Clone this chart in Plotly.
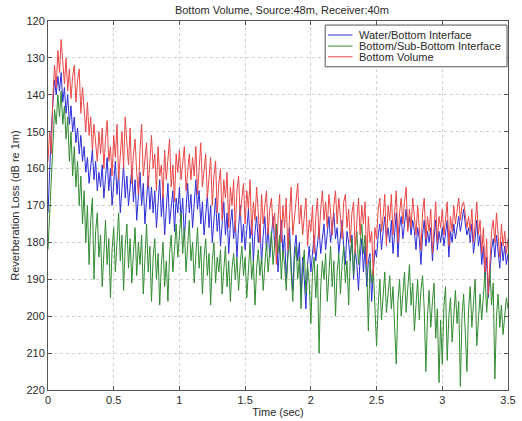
import numpy as np
import plotly.graph_objects as go

# time grid (sec)
t_start, t_end, n_pts = 0.0, 3.5, 281
time = np.linspace(t_start, t_end, n_pts)

water_bottom = [
    172, 160, 150, 142, 136, 140, 135, 139,
    134, 142, 138, 145, 140, 148, 143, 150,
    146, 153, 149, 156, 151, 158, 154, 161,
    157, 164, 159, 155, 163, 158, 166, 161,
    165, 159, 168, 162, 157, 166, 160, 170,
    163, 158, 167, 161, 172, 164, 159, 168,
    162, 170, 165, 160, 169, 163, 174, 166,
    161, 170, 164, 175, 167, 162, 171, 165,
    172, 166, 176, 168, 163, 173, 167, 178,
    169, 164, 175, 170, 166, 177, 168, 172,
    165, 174, 168, 179, 170, 164, 172, 167,
    176, 168, 163, 171, 166, 175, 169, 178,
    171, 167, 176, 170, 180, 173, 168, 177,
    172, 181, 174, 169, 178, 172, 183, 175,
    171, 179, 174, 184, 176, 170, 180, 175,
    182, 176, 171, 179, 174, 185, 177, 173,
    180, 175, 186, 178, 173, 182, 176, 184,
    177, 173, 181, 175, 188, 179, 174, 183,
    178, 190, 181, 176, 186, 193, 182, 178,
    185, 180, 195, 184, 190, 198, 186, 181,
    188, 182, 178, 185, 180, 176, 183, 179,
    175, 182, 177, 173, 180, 176, 172, 179,
    176, 183, 178, 174, 181, 186, 177, 180,
    185, 178, 190, 182, 186, 193, 184, 179,
    188, 181, 192, 185, 183, 196, 188, 182,
    184, 178, 175, 182, 177, 173, 179, 176,
    180, 174, 183, 177, 172, 184, 176, 173,
    179, 175, 171, 176, 173, 178, 174, 177,
    182, 176, 179, 186, 178, 174, 181, 177,
    180, 176, 185, 179, 174, 182, 177, 180,
    176, 181, 178, 174, 184, 177, 180, 175,
    179, 176, 173, 177, 174, 171, 175, 178,
    176, 180, 175, 183, 179, 174, 181, 178,
    186, 181, 190, 184, 195, 187, 182, 179,
    184, 178, 182, 187, 180, 185, 181, 186,
    183,
]

bottom_sub = [
    182, 172, 160, 150, 144, 148, 140, 146,
    139, 148, 143, 152, 146, 158, 150, 162,
    154, 165, 158, 170, 162, 175, 166, 180,
    170, 186, 174, 168, 190, 177, 172, 184,
    178, 192, 181, 174, 186, 179, 195, 182,
    176, 188, 180, 172, 185, 178, 193, 181,
    175, 187, 179, 191, 183, 176, 189, 180,
    186, 178, 194, 182, 175, 188, 181, 196,
    184, 179, 190, 183, 197, 186, 180, 192,
    185, 196, 183, 178, 188, 182, 175, 184,
    178, 172, 183, 176, 188, 179, 174, 185,
    180, 191, 182, 176, 187, 181, 194, 184,
    179, 189, 183, 197, 185, 180, 191, 184,
    188, 182, 194, 186, 181, 192, 185, 196,
    187, 183, 190, 184, 193, 186, 181, 189,
    184, 195, 186, 180, 190, 185, 197, 187,
    182, 189, 184, 193, 186, 180, 188, 183,
    177, 186, 180, 175, 183, 178, 190, 182,
    186, 193, 184, 179, 188, 196, 185, 181,
    190, 184, 198, 187, 182, 194, 186, 191,
    202, 188, 184, 195, 186, 210, 192, 185,
    190, 183, 196, 187, 181, 192, 185, 200,
    188, 183, 194, 186, 181, 191, 185, 197,
    184, 179, 189, 182, 177, 186, 180, 175,
    183, 178, 186, 204, 185, 191, 187, 196,
    208, 197, 190, 201, 194, 188, 199, 193,
    189, 198, 192, 203, 213, 196, 190, 200,
    194, 188, 199, 193, 186, 197, 191, 204,
    195, 190, 201, 193, 189, 198, 215, 200,
    193, 203, 196, 191, 206, 198, 218, 201,
    213, 197, 192, 212, 200, 195, 207, 198,
    193, 202, 196, 219, 200, 194, 205, 215,
    198, 192, 203, 196, 190, 208, 199, 194,
    201, 195, 188, 199, 193, 187, 197, 191,
    217, 200, 194, 203, 197, 205, 200, 195,
    198,
]

bottom_volume = [
    158, 150, 156, 140, 132, 138, 128, 134,
    125, 131, 137, 130, 139, 133, 141, 135,
    132, 142, 136, 133, 145, 138, 144, 150,
    142, 151, 146, 155, 148, 153, 158, 150,
    156, 149, 160, 152, 147, 158, 154, 162,
    151, 157, 148, 163, 155, 150, 160, 146,
    153, 159, 149, 164, 156, 152, 161, 167,
    155, 148, 162, 157, 153, 165, 158, 151,
    160, 156, 166, 154, 162, 159, 168, 155,
    163, 157, 152, 165, 159, 169, 156, 161,
    155, 163, 158, 154, 166, 160, 156, 163,
    157, 162, 154, 167, 158, 153, 165, 160,
    156, 168, 161, 157, 170, 162, 158, 172,
    164, 160, 174, 163, 168, 161, 176, 165,
    170, 163, 177, 166, 162, 173, 168, 164,
    175, 166, 171, 163, 178, 169, 174, 165,
    172, 180, 167, 175, 170, 166, 178, 171,
    168, 176, 172, 186, 174, 167, 180, 170,
    176, 168, 182, 171, 165, 178, 173, 169,
    164, 175, 170, 178, 172, 168, 181, 174,
    177, 170, 183, 173, 168, 179, 171, 166,
    174, 169, 176, 167, 172, 178, 170, 166,
    175, 168, 173, 179, 169, 167, 176, 171,
    180, 172, 169, 183, 174, 168, 178, 170,
    175, 169, 186, 173, 180, 177, 189, 176,
    179, 171, 168, 177, 173, 167, 181, 170,
    174, 167, 178, 171, 166, 180, 172, 168,
    175, 169, 165, 177, 171, 176, 168, 173,
    178, 170, 175, 182, 172, 168, 179, 173,
    177, 171, 183, 174, 169, 180, 173, 176,
    171, 178, 174, 169, 181, 173, 177, 170,
    175, 172, 168, 174, 170, 169, 172, 176,
    173, 177, 171, 180, 175, 169, 178, 174,
    183, 176, 188, 179, 194, 184, 177, 174,
    180, 172, 178, 184, 175, 181, 177, 183,
    179,
]

series_names = ["Water/Bottom Interface", "Bottom/Sub-Bottom Interface", "Bottom Volume"]
series_values = [water_bottom, bottom_sub, bottom_volume]
series_colors = ["rgb(45,45,215)", "rgb(50,140,50)", "rgb(235,70,70)"]

x_ticks = [0, 0.5, 1, 1.5, 2, 2.5, 3, 3.5]
x_tick_labels = ["0", "0.5", "1", "1.5", "2", "2.5", "3", "3.5"]
y_ticks = [120, 130, 140, 150, 160, 170, 180, 190, 200, 210, 220]

font_family = "Liberation Sans, Arial, sans-serif"
text_color = "#2a2a2a"

fig = go.Figure()
for name, vals, col in zip(series_names, series_values, series_colors):
    fig.add_trace(go.Scatter(x=time, y=vals, mode="lines", name=name,
                             line=dict(color=col, width=1), showlegend=False))

# compact MATLAB-style legend box (top right, inside axes)
leg_x0, leg_x1, leg_y0, leg_y1 = 0.6026, 0.9979, 0.876, 0.989
leg_rows = [0.962, 0.932, 0.903]
fig.add_shape(type="rect", xref="paper", yref="paper",
              x0=leg_x0, x1=leg_x1, y0=leg_y0, y1=leg_y1,
              line=dict(color="#555", width=1), fillcolor="white", layer="above")
for name, col, yy in zip(series_names, series_colors, leg_rows):
    fig.add_shape(type="line", xref="paper", yref="paper",
                  x0=0.609, x1=0.662, y0=yy, y1=yy,
                  line=dict(color=col, width=1), layer="above")
    fig.add_annotation(xref="paper", yref="paper", x=0.671, y=yy,
                       xanchor="left", yanchor="middle", text=name, showarrow=False,
                       font=dict(size=11, color=text_color, family=font_family))

axis_common = dict(showline=True, linecolor="#555", linewidth=1, mirror="ticks",
                   ticks="inside", ticklen=4, tickcolor="#555",
                   showgrid=True, gridcolor="#cfcfcf", griddash="dot", gridwidth=1,
                   zeroline=False, ticklabeloverflow="allow",
                   tickfont=dict(size=11, color=text_color, family=font_family))

fig.update_layout(
    width=522, height=421,
    margin=dict(l=48, r=6, t=21, b=30),
    paper_bgcolor="white", plot_bgcolor="white",
    title=dict(text="Bottom Volume, Source:48m, Receiver:40m",
               x=0.54, xanchor="center", y=0.976, yanchor="middle",
               font=dict(size=11, color=text_color, family=font_family)),
    xaxis=dict(range=[0, 3.5], tickvals=x_ticks, ticktext=x_tick_labels,
               title=dict(text="Time (sec)", standoff=1,
                          font=dict(size=11, color=text_color, family=font_family)),
               **axis_common),
    yaxis=dict(range=[220, 120], tickvals=y_ticks,
               title=dict(text="Reverberation Loss (dB re 1m)", standoff=4,
                          font=dict(size=11, color=text_color, family=font_family)),
               **axis_common),
    showlegend=False,
)

fig.write_html("out.html")
